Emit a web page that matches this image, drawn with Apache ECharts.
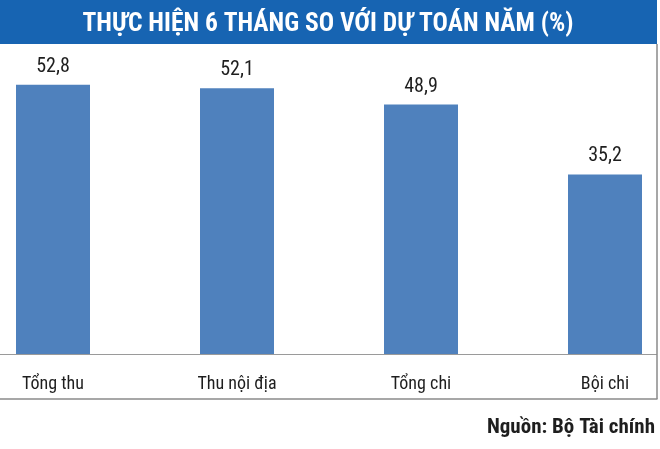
<!DOCTYPE html>
<html>
<head>
<meta charset="utf-8">
<script src="https://cdn.jsdelivr.net/npm/echarts@6/dist/echarts.min.js"></script>
<style>
html,body{margin:0;padding:0;background:#fff;}
#c{width:660px;height:449px;}
</style>
</head>
<body>
<div id="c"></div>
<script>
const titleText = "THỰC HIỆN 6 THÁNG SO VỚI DỰ TOÁN NĂM (%)";
const sourceText = "Nguồn: Bộ Tài chính";
const categories = ["Tổng thu", "Thu nội địa", "Tổng chi", "Bội chi"];
const values = [52.8, 52.1, 48.9, 35.2];

const FONT = '"Roboto Condensed", "Liberation Sans Narrow", "Arial Narrow", "Liberation Sans", Arial, sans-serif';
const chart = echarts.init(document.getElementById('c'), null, {renderer: 'canvas'});
chart.setOption({
  backgroundColor: '#ffffff',
  animation: false,
  title: [{
    text: titleText,
    left: 323, top: 7, textAlign: 'center',
    textStyle: {color: '#ffffff', fontSize: 25.5, fontWeight: 'bold', fontFamily: FONT}
  }, {
    text: sourceText,
    right: 0, top: 412,
    textStyle: {color: '#1e1e1e', fontSize: 21, fontWeight: 'bold', fontFamily: FONT}
  }],
  graphic: [
    {type: 'rect', z: -10, shape: {x: 0, y: 0, width: 657, height: 44}, style: {fill: '#1764b2'}},
    {type: 'line', z: -5, shape: {x1: 0, y1: 354.5, x2: 657, y2: 354.5}, style: {stroke: '#9a9a9a', lineWidth: 1}},
    {type: 'line', z: 101, shape: {x1: 657, y1: 44, x2: 657, y2: 399}, style: {stroke: '#8a8a8a', lineWidth: 1.5}},
    {type: 'line', z: 101, shape: {x1: 0, y1: 399, x2: 657.5, y2: 399}, style: {stroke: '#8a8a8a', lineWidth: 1.5}}
  ],
  grid: {left: 53, right: 55, top: 48, bottom: 95},
  xAxis: {
    type: 'category',
    data: categories,
    boundaryGap: false,
    axisLine: {show: true, lineStyle: {color: '#9a9a9a', width: 1}},
    axisTick: {show: false},
    axisLabel: {color: '#1e1e1e', fontSize: 18, fontFamily: FONT, margin: 21}
  },
  yAxis: {
    type: 'value', min: 0, max: 60, show: false,
    splitLine: {show: false}
  },
  series: [{
    type: 'bar',
    data: values,
    barWidth: 74,
    clip: false,
    itemStyle: {color: '#4f81bd'},
    label: {
      show: true, position: 'top', distance: 8,
      color: '#1e1e1e', fontSize: 20, fontFamily: FONT,
      formatter: p => String(p.value).replace('.', ',')
    }
  }]
});
</script>
</body>
</html>
